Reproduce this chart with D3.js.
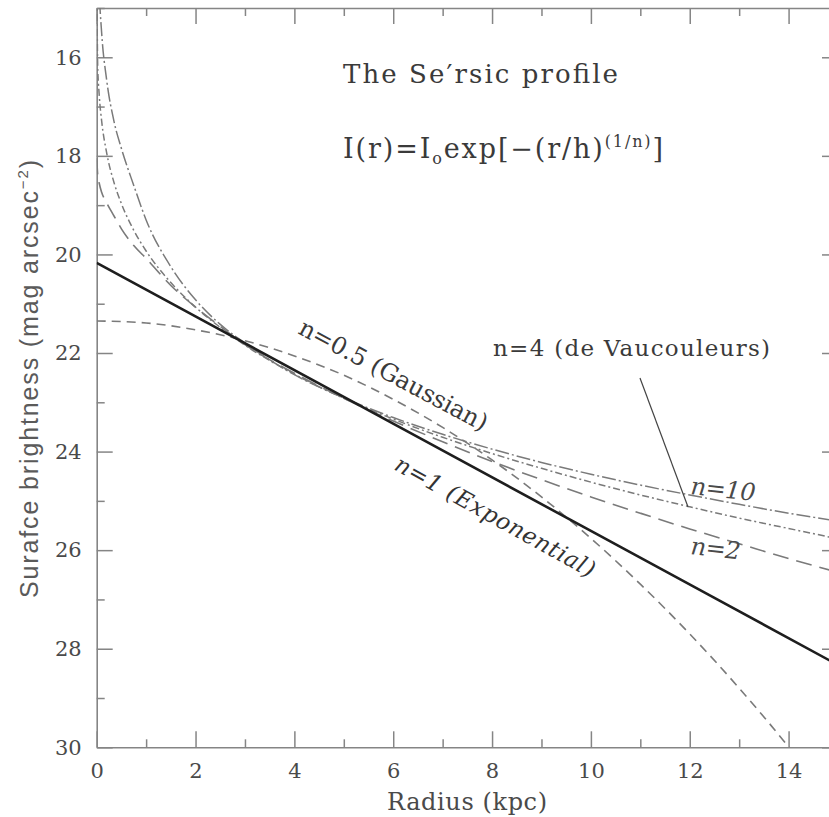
<!DOCTYPE html>
<html>
<head>
<meta charset="utf-8">
<script src="https://cdn.jsdelivr.net/npm/d3@7"></script>
<style>
  body { margin: 0; background: #fff; }
  text { font-family: "DejaVu Serif", serif; }
</style>
</head>
<body>
<script>
// radius grid (kpc) shared by the n=2, 4, 10 profiles
var radii = [0, 0.02, 0.05, 0.1, 0.2, 0.35, 0.5, 0.75, 1, 1.5, 2, 2.5, 3, 4, 5, 6, 7, 8, 9, 10, 11, 12, 13, 14, 15];

// surface brightness (mag arcsec^-2)
var muN2  = [18.05, 18.38, 18.55, 18.74, 18.95, 19.22, 19.48, 19.82, 20.08, 20.63, 21.07, 21.46, 21.83, 22.41, 22.92, 23.38, 23.80, 24.20, 24.57, 24.92, 25.25, 25.57, 25.87, 26.17, 26.45];
var muN4  = [13.9, 16.17, 16.75, 17.29, 17.93, 18.54, 18.97, 19.51, 19.93, 20.57, 21.07, 21.48, 21.84, 22.43, 22.92, 23.34, 23.71, 24.04, 24.34, 24.62, 24.88, 25.12, 25.35, 25.56, 25.77];
var muN10 = [null, 13.5, 14.6, 15.5, 16.45, 17.3, 17.85, 18.6, 19.3, 20.25, 20.92, 21.42, 21.8, 22.44, 22.91, 23.31, 23.65, 23.95, 24.22, 24.46, 24.68, 24.88, 25.07, 25.25, 25.41];

// gaussian (n=0.5)
var radiiGauss = [0, 1, 2, 3, 4, 5, 6, 7, 8, 9, 10, 11, 12, 13, 14, 14.5];
var muGauss = [21.35, 21.39, 21.53, 21.75, 22.06, 22.45, 22.94, 23.51, 24.17, 24.92, 25.76, 26.69, 27.70, 28.80, 29.99, 30.62];

// exponential (n=1)
var radiiExp = [0, 5, 10, 15];
var muExp = [20.17, 22.89, 25.61, 28.33];

// tick values
var xMajor = [0, 2, 4, 6, 8, 10, 12, 14];
var xMinor = [1, 3, 5, 7, 9, 11, 13, 15];
var yMajor = [16, 18, 20, 22, 24, 26, 28, 30];
var yMinor = [15, 17, 19, 21, 23, 25, 27, 29];

var svg = d3.select("body").append("svg")
    .attr("width", 829)
    .attr("height", 817);

var x = d3.scaleLinear().domain([0, 15]).range([96.7, 838]);
var y = d3.scaleLinear().domain([15, 30]).range([8, 747.3]);

var axisColor = "#858585";
var textColor = "#4a4a4a";
var serif = "'DejaVu Serif', serif";

//clip for curves
svg.append("clipPath").attr("id", "plotclip")
    .append("rect")
    .attr("x", x(0)).attr("y", y(15))
    .attr("width", x(15) - x(0)).attr("height", y(30) - y(15));

//helper to style an axis group
function styleAxis(g, keepDomain) {
    g.attr("font-family", null).attr("font-size", null);
    g.selectAll("line").attr("stroke", axisColor).attr("stroke-width", 1.5);
    g.selectAll("path.domain").attr("stroke", axisColor).attr("stroke-width", 1.6);
    if (!keepDomain) g.select("path.domain").remove();
    g.selectAll("text")
        .style("font-family", serif)
        .style("font-size", "21px")
        .attr("fill", textColor);
}

//bottom axis
svg.append("g")
    .attr("transform", "translate(0," + y(30) + ")")
    .call(d3.axisBottom(x).tickValues(xMajor).tickSize(-16).tickSizeOuter(0).tickPadding(16))
    .call(styleAxis, true);
svg.append("g")
    .attr("transform", "translate(0," + y(30) + ")")
    .call(d3.axisBottom(x).tickValues(xMinor).tickSize(-8).tickFormat(""))
    .call(styleAxis, false);

//left axis
svg.append("g")
    .attr("transform", "translate(" + x(0) + ",0)")
    .call(d3.axisLeft(y).tickValues(yMajor).tickSize(-16).tickSizeOuter(0).tickPadding(15))
    .call(styleAxis, true);
svg.append("g")
    .attr("transform", "translate(" + x(0) + ",0)")
    .call(d3.axisLeft(y).tickValues(yMinor).tickSize(-8).tickFormat(""))
    .call(styleAxis, false);

//top axis
svg.append("g")
    .attr("transform", "translate(0," + y(15) + ")")
    .call(d3.axisTop(x).tickValues(xMajor).tickSize(-16).tickSizeOuter(0).tickFormat(""))
    .call(styleAxis, true);
svg.append("g")
    .attr("transform", "translate(0," + y(15) + ")")
    .call(d3.axisTop(x).tickValues(xMinor).tickSize(-8).tickFormat(""))
    .call(styleAxis, false);

//right axis
svg.append("g")
    .attr("transform", "translate(" + x(15) + ",0)")
    .call(d3.axisRight(y).tickValues(yMajor).tickSize(-16).tickSizeOuter(0).tickFormat(""))
    .call(styleAxis, true);
svg.append("g")
    .attr("transform", "translate(" + x(15) + ",0)")
    .call(d3.axisRight(y).tickValues(yMinor).tickSize(-8).tickFormat(""))
    .call(styleAxis, false);

//curves
var line = d3.line()
    .defined(function(d) { return d[1] !== null; })
    .x(function(d) { return x(d[0]); })
    .y(function(d) { return y(d[1]); })
    .curve(d3.curveMonotoneX);

var curves = [
    { r: radiiGauss, mu: muGauss, dash: "9,6", width: 1.6, color: "#7a7a7a" },
    { r: radii, mu: muN2, dash: "16,8", width: 1.6, color: "#7a7a7a" },
    { r: radii, mu: muN4, dash: "7,3,2,3", width: 1.5, color: "#7a7a7a" },
    { r: radii, mu: muN10, dash: "14,3,2,3", width: 1.5, color: "#7a7a7a" },
    { r: radiiExp, mu: muExp, dash: null, width: 2.6, color: "#1e1e1e" }
];

var plot = svg.append("g").attr("clip-path", "url(#plotclip)");
curves.forEach(function(c) {
    plot.append("path")
        .datum(c.r.map(function(r, i) { return [r, c.mu[i]]; }))
        .attr("d", line)
        .attr("fill", "none")
        .attr("stroke", c.color)
        .attr("stroke-width", c.width)
        .attr("stroke-dasharray", c.dash);
});

//axis titles
svg.append("text")
    .attr("x", 467).attr("y", 810)
    .attr("text-anchor", "middle")
    .attr("textLength", 160)
    .style("font-family", serif)
    .style("font-size", "24px")
    .attr("fill", textColor)
    .text("Radius (kpc)");

var ylab = svg.append("text")
    .attr("transform", "translate(38,379) rotate(-90)")
    .attr("text-anchor", "middle")
    .attr("textLength", 438)
    .style("font-family", "'Liberation Sans', Arial, sans-serif")
    .style("font-size", "25px")
    .attr("fill", "#5a5a5a");
ylab.append("tspan").text("Surafce brightness (mag arcsec");
ylab.append("tspan").attr("dy", -10).style("font-size", "15px").text("−2");
ylab.append("tspan").attr("dy", 10).text(")");

//title and formula
svg.append("text")
    .attr("x", 343).attr("y", 83)
    .attr("textLength", 275)
    .style("font-family", serif)
    .style("font-size", "26px")
    .attr("fill", "#3a3a3a")
    .text("The Se′rsic profile");

var formula = svg.append("text")
    .attr("x", 343).attr("y", 158)
    .attr("textLength", 320)
    .style("font-family", serif)
    .style("font-size", "27px")
    .attr("fill", "#3a3a3a");
formula.append("tspan").text("I(r)=I");
formula.append("tspan").attr("dy", 6).style("font-size", "16px").text("o");
formula.append("tspan").attr("dy", -6).text("exp[−(r/h)");
formula.append("tspan").attr("dy", -11).style("font-size", "16px").text("(1/n)");
formula.append("tspan").attr("dy", 11).text("]");

//curve labels
var labels = [
    { text: "n=0.5 (Gaussian)", x0: 297, y0: 333, angle: 28, len: 210, italic: false, size: 24, color: "#3a3a3a" },
    { text: "n=1 (Exponential)", x0: 393, y0: 469, angle: 29, len: 225, italic: true, size: 23, color: "#333" },
    { text: "n=4 (de Vaucouleurs)", x0: 493, y0: 356, angle: 0, len: 277, italic: false, size: 23, color: "#3a3a3a" },
    { text: "n=10", x0: 690, y0: 494, angle: 6, len: 65, italic: true, size: 24, color: "#4a4a4a" },
    { text: "n=2", x0: 690, y0: 554, angle: 6, len: 50, italic: true, size: 24, color: "#4a4a4a" }
];

svg.selectAll(".clabel")
    .data(labels)
    .enter().append("text")
    .attr("class", "clabel")
    .attr("transform", function(d) { return "translate(" + d.x0 + "," + d.y0 + ") rotate(" + d.angle + ")"; })
    .attr("textLength", function(d) { return d.len; })
    .style("font-family", serif)
    .style("font-size", function(d) { return d.size + "px"; })
    .style("font-style", function(d) { return d.italic ? "italic" : "normal"; })
    .attr("fill", function(d) { return d.color; })
    .text(function(d) { return d.text; });

//pointer from de Vaucouleurs label to the n=4 curve
svg.append("line")
    .attr("x1", 640).attr("y1", 378)
    .attr("x2", 688).attr("y2", 507)
    .attr("stroke", "#444")
    .attr("stroke-width", 1.2);
</script>
</body>
</html>
